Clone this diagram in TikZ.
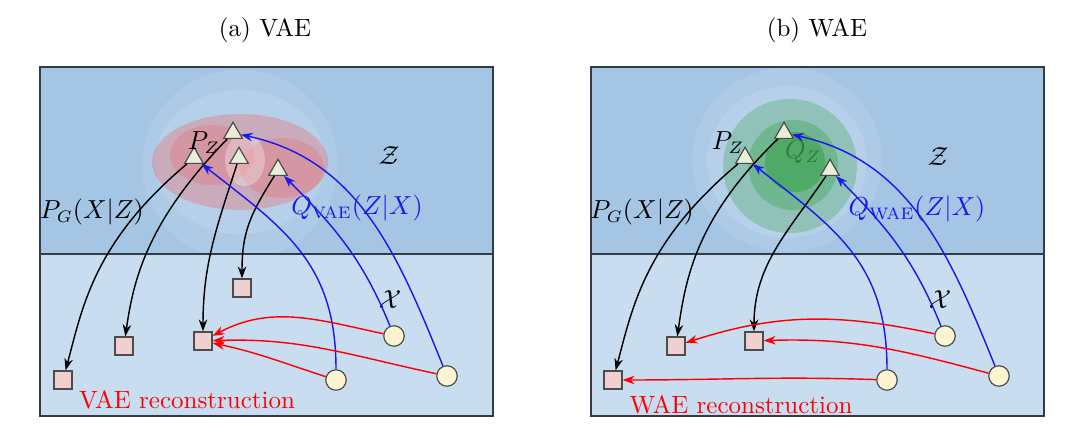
\documentclass[tikz,border=0pt]{standalone}
\usetikzlibrary{shapes.geometric,arrows.meta}
\definecolor{topblue}{RGB}{164,198,228}
\definecolor{botblue}{RGB}{200,222,240}
\definecolor{trifill}{RGB}{232,238,216}
\definecolor{sqfill}{RGB}{240,208,206}
\definecolor{cirfill}{RGB}{252,244,208}
\definecolor{qblue}{RGB}{25,25,235}
\definecolor{frame}{RGB}{50,60,70}
\definecolor{qzgreen}{RGB}{40,110,40}
\begin{document}
\begin{tikzpicture}[x=0.42pt,y=0.42pt,
 tri/.style={regular polygon,regular polygon sides=3,draw=gray!60!black,fill=trifill,inner sep=0pt,minimum size=9pt,line width=0.5pt},
 sq/.style={rectangle,draw=gray!60!black,fill=sqfill,minimum size=7.6pt,inner sep=0pt,line width=0.5pt},
 cir/.style={circle,draw=gray!60!black,fill=cirfill,minimum size=8.6pt,inner sep=0pt,line width=0.5pt},
 gen/.style={-{Stealth[length=5pt,width=3.6pt]},draw=black,line width=0.6pt},
 enc/.style={-{Stealth[length=5pt,width=3.6pt]},draw=qblue,line width=0.6pt},
 rec/.style={-{Stealth[length=5pt,width=3.6pt]},draw=red,line width=0.6pt},
 lbl/.style={inner sep=0pt,font=\fontsize{10.5}{12}\selectfont}
]
\useasboundingbox (0,0) rectangle (1080,-444);

% titles
\node[lbl] (ta) at (265,-30) {(a) VAE};
\node[lbl] (tb) at (817,-30) {(b) WAE};

% ---------- panel (a) background ----------
\fill[topblue] (40,-67) rectangle (493,-254);
\fill[botblue] (40,-254) rectangle (493,-416);
\begin{scope}
\clip (40,-67) rectangle (493,-254);
\fill[white,opacity=0.10] (240,-165) ellipse [x radius=98, y radius=95];
\fill[white,opacity=0.10] (240,-162) ellipse [x radius=85, y radius=72];
\fill[red!70,opacity=0.28] (240,-162) ellipse [x radius=88, y radius=48];
\fill[red!70,opacity=0.22] (212,-155) ellipse [x radius=42, y radius=30];
\fill[red!70,opacity=0.22] (282,-168) ellipse [x radius=42, y radius=30];
\fill[white,opacity=0.30] (245,-160) ellipse [x radius=20, y radius=26];
\end{scope}
\draw[frame,line width=0.6pt] (40,-67) rectangle (493,-416);
\draw[frame,line width=0.6pt] (40,-254) -- (493,-254);

% ---------- panel (b) background ----------
\fill[topblue] (591,-67) rectangle (1044,-254);
\fill[botblue] (591,-254) rectangle (1044,-416);
\begin{scope}
\clip (591,-67) rectangle (1044,-254);
\fill[white,opacity=0.10] (787,-160) ellipse [x radius=95, y radius=92];
\fill[white,opacity=0.10] (787,-162) ellipse [x radius=80, y radius=76];
\fill[green!55!black,opacity=0.20] (790,-166) circle [radius=67];
\fill[green!55!black,opacity=0.22] (793,-165) circle [radius=45];
\fill[green!55!black,opacity=0.28] (795,-162) circle [radius=30];
\end{scope}
\draw[frame,line width=0.6pt] (591,-67) rectangle (1044,-416);
\draw[frame,line width=0.6pt] (591,-254) -- (1044,-254);

% ---------- panel (a) nodes ----------
\node[tri] (a1) at (233,-133) {};
\node[tri] (a2) at (194,-158) {};
\node[tri] (a3) at (239,-158) {};
\node[tri] (a4) at (278,-170) {};
\node[sq] (s1) at (242,-288) {};
\node[sq] (s2) at (124,-346) {};
\node[sq] (s3) at (203,-341) {};
\node[sq] (s4) at (63,-380) {};
\node[cir] (c1) at (394,-336) {};
\node[cir] (c2) at (336,-380) {};
\node[cir] (c3) at (447,-376) {};

\node[lbl] (pza) at (204,-143) {$P_Z$};
\node[lbl] (za) at (389,-156) {$\mathcal{Z}$};
\node[lbl] (pga) at (92,-212) {$P_G(X|Z)$};
\node[lbl,text=qblue] (qa) at (357,-208) {$Q_{\mathrm{VAE}}(Z|X)$};
\node[lbl] (xa) at (390,-300) {$\mathcal{X}$};
\node[lbl,text=red] (ra) at (187,-400) {VAE reconstruction};

% decoder (black)
\draw[gen] (a2) to[out=220,in=75,out looseness=1.3,in looseness=0.7] (s4);
\draw[gen] (a1) to[out=226,in=82,out looseness=1.3,in looseness=0.7] (s2);
\draw[gen] (a3) to[out=252,in=90] (s3);
\draw[gen] (a4) to[out=238,in=90,looseness=1.1] (s1);
% encoder (blue)
\draw[enc] (c2) to[out=90,in=-38,looseness=1.1] (a2);
\draw[enc] (c1) to[out=112,in=-45] (a4);
\draw[enc] (c3) to[out=112,in=-12] (a1);
% reconstruction (red)
\draw[rec] (c1) to[out=168,in=28] (s3);
\draw[rec] (c3) to[out=168,in=2] (s3);
\draw[rec] (c2) to[out=162,in=-12] (s3);

% ---------- panel (b) nodes ----------
\node[tri] (b1) at (784,-133) {};
\node[tri] (b2) at (745,-158) {};
\node[tri] (b3) at (830,-170) {};
\node[sq] (v1) at (676,-346) {};
\node[sq] (v2) at (754,-341) {};
\node[sq] (v3) at (613,-380) {};
\node[cir] (w1) at (945,-336) {};
\node[cir] (w2) at (887,-380) {};
\node[cir] (w3) at (999,-376) {};

\node[lbl] (pzb) at (728,-143) {$P_Z$};
\node[lbl,text=qzgreen,opacity=0.8] (qzb) at (803,-152) {$Q_Z$};
\node[lbl] (zb) at (938,-157) {$\mathcal{Z}$};
\node[lbl] (pgb) at (642,-212) {$P_G(X|Z)$};
\node[lbl,text=qblue] (qb) at (917,-209) {$Q_{\mathrm{WAE}}(Z|X)$};
\node[lbl] (xb) at (940,-300) {$\mathcal{X}$};
\node[lbl,text=red] (rb) at (741,-405) {WAE reconstruction};

% decoder (black)
\draw[gen] (b2) to[out=220,in=75,out looseness=1.3,in looseness=0.7] (v3);
\draw[gen] (b1) to[out=224,in=82,out looseness=1.3,in looseness=0.7] (v1);
\draw[gen] (b3) to[out=236,in=90] (v2);
% encoder (blue)
\draw[enc] (w2) to[out=90,in=-38,looseness=1.1] (b2);
\draw[enc] (w1) to[out=112,in=-45] (b3);
\draw[enc] (w3) to[out=112,in=-12] (b1);
% reconstruction (red)
\draw[rec] (w1) to[out=168,in=18] (v1);
\draw[rec] (w3) to[out=165,in=2] (v2);
\draw[rec] (w2) to[out=178,in=0] (v3);
\end{tikzpicture}
\end{document}
